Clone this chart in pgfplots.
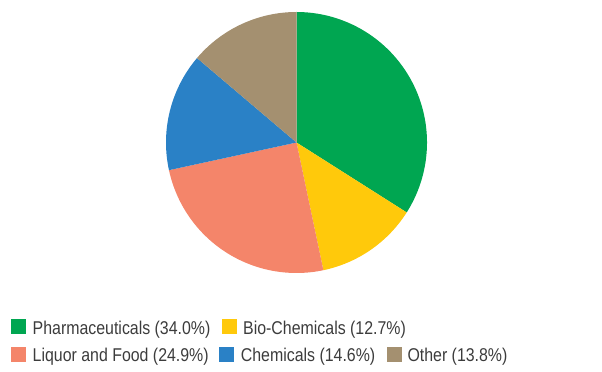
\documentclass[border=0pt]{standalone}
\usepackage{fontspec}
\setmainfont{Liberation Sans}[FakeStretch=0.86]
\usepackage{pgfplots}
\pgfplotsset{compat=1.18}

\definecolor{cPharma}{HTML}{00A651}
\definecolor{cBio}{HTML}{FFC90B}
\definecolor{cLiquor}{HTML}{F4856A}
\definecolor{cChem}{HTML}{2A81C6}
\definecolor{cOther}{HTML}{A49070}
\definecolor{txt}{HTML}{3C3C3C}

% shares in percent, clockwise from twelve o'clock
\def\sA{34.0}  % Pharmaceuticals
\def\sB{12.7}  % Bio-Chemicals
\def\sC{24.9}  % Liquor and Food
\def\sD{14.6}  % Chemicals
\def\sE{13.8}  % Other

\begin{document}
\begin{tikzpicture}[x=1bp,y=1bp]
\useasboundingbox (0,0) rectangle (602,371);
\begin{axis}[
  at={(296.5bp,228.5bp)}, anchor=center,
  scale only axis, width=261bp, height=261bp,
  hide axis, clip=false,
  xmin=-1, xmax=1, ymin=-1, ymax=1,
  samples=120, variable=\t,
]
\addplot[draw=none, fill=cPharma, domain={90}:{90-3.6*(\sA)}]
  ({cos(\t)},{sin(\t)}) -- (axis cs:0,0) -- cycle;
\addplot[draw=none, fill=cBio, domain={90-3.6*(\sA)}:{90-3.6*(\sA+\sB)}]
  ({cos(\t)},{sin(\t)}) -- (axis cs:0,0) -- cycle;
\addplot[draw=none, fill=cLiquor, domain={90-3.6*(\sA+\sB)}:{90-3.6*(\sA+\sB+\sC)}]
  ({cos(\t)},{sin(\t)}) -- (axis cs:0,0) -- cycle;
\addplot[draw=none, fill=cChem, domain={90-3.6*(\sA+\sB+\sC)}:{90-3.6*(\sA+\sB+\sC+\sD)}]
  ({cos(\t)},{sin(\t)}) -- (axis cs:0,0) -- cycle;
\addplot[draw=none, fill=cOther, domain={90-3.6*(\sA+\sB+\sC+\sD)}:{90-3.6*(\sA+\sB+\sC+\sD+\sE)}]
  ({cos(\t)},{sin(\t)}) -- (axis cs:0,0) -- cycle;
\end{axis}

% legend
\tikzset{lg/.style={anchor=base west, inner sep=0pt, text=txt,
  font=\fontsize{18.5bp}{21bp}\selectfont}}
\fill[cPharma] (11,37) rectangle ++(15,15);
\node[lg] at (32.5,37) {Pharmaceuticals (\sA\%)};
\fill[cBio] (222,37) rectangle ++(15,15);
\node[lg] at (243,37) {Bio-Chemicals (\sB\%)};
\fill[cLiquor] (11,9.5) rectangle ++(15,15);
\node[lg] at (32.5,9.5) {Liquor and Food (\sC\%)};
\fill[cChem] (219,9.5) rectangle ++(15,15);
\node[lg] at (240.7,9.5) {Chemicals (\sD\%)};
\fill[cOther] (386.7,9.5) rectangle ++(15,15);
\node[lg] at (407.3,9.5) {Other (\sE\%)};
\end{tikzpicture}
\end{document}
